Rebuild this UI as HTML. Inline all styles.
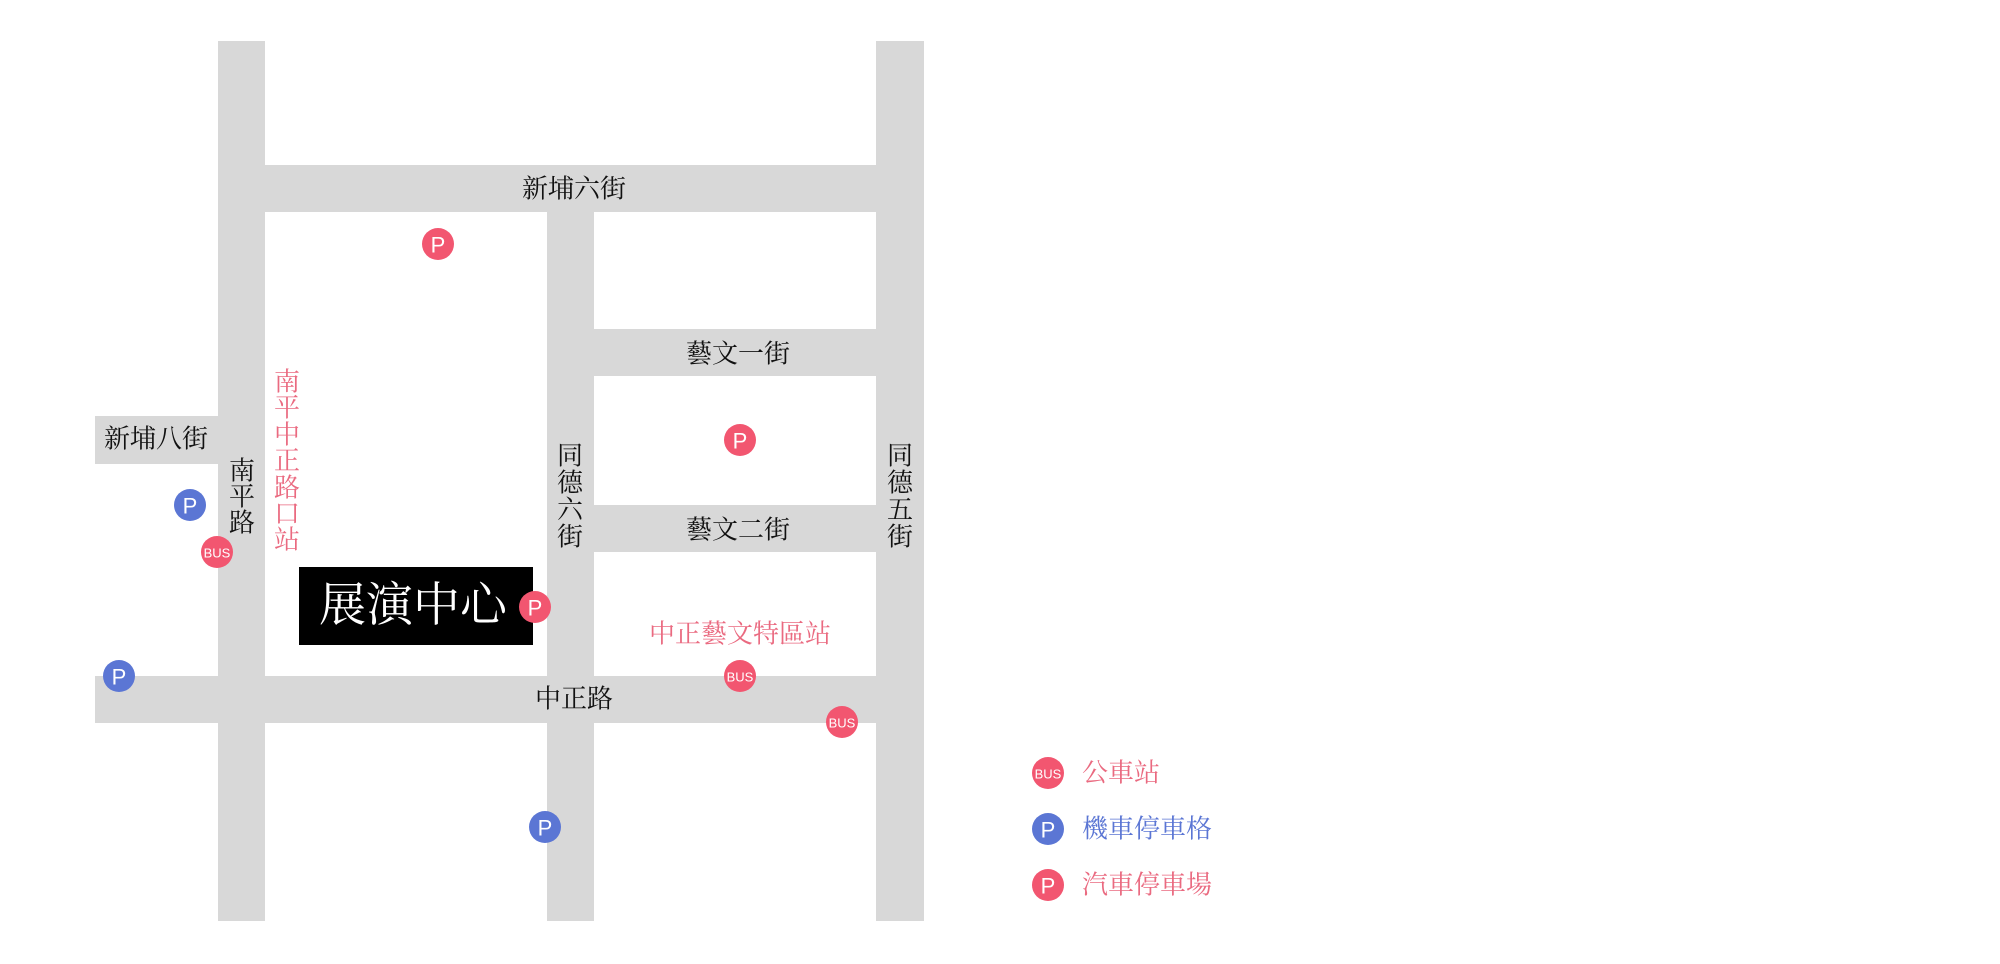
<!DOCTYPE html>
<html><head><meta charset="utf-8"><style>
html,body{margin:0;padding:0;background:#fff;}
svg{display:block}
.s{font-family:"Liberation Serif","Noto Serif CJK SC",serif;}
.g{font-family:"Liberation Sans","Noto Sans CJK TC",sans-serif;}
</style></head><body>
<svg width="2000" height="964" viewBox="0 0 2000 964" xmlns="http://www.w3.org/2000/svg">
<g fill="#d8d8d8">
<rect x="218" y="41" width="47" height="880"/>
<rect x="547" y="212" width="47" height="709"/>
<rect x="876" y="41" width="48" height="880"/>
<rect x="265" y="165" width="611" height="47"/>
<rect x="594" y="329" width="282" height="47"/>
<rect x="594" y="505" width="282" height="47"/>
<rect x="95" y="676" width="781" height="47"/>
<rect x="95" y="416" width="123" height="48"/>
</g>
<g class="s" font-size="26" fill="#111" text-anchor="middle" dominant-baseline="central">
<text x="574" y="189">新埔六街</text>
<text x="738" y="354">藝文一街</text>
<text x="738" y="530">藝文二街</text>
<text x="574" y="699">中正路</text>
<text x="156" y="439">新埔八街</text>
<text x="242" y="471">南</text><text x="242" y="497">平</text><text x="242" y="523">路</text>
<text x="570" y="456">同</text><text x="570" y="483">德</text><text x="570" y="510">六</text><text x="570" y="537">街</text>
<text x="900" y="456">同</text><text x="900" y="483">德</text><text x="900" y="510">五</text><text x="900" y="537">街</text>
</g>
<g class="s" font-size="26" fill="#ea6a80" text-anchor="middle" dominant-baseline="central">
<text x="287" y="382">南</text><text x="287" y="408">平</text><text x="287" y="435">中</text><text x="287" y="461">正</text><text x="287" y="488">路</text><text x="287" y="514">口</text><text x="287" y="540">站</text>
<text x="740" y="634">中正藝文特區站</text>
</g>
<rect x="299" y="567" width="234" height="78" fill="#000"/>
<text class="s" x="319" y="606" font-size="47" fill="#fff" dominant-baseline="central">展演中心</text>
<g class="g" text-anchor="middle" dominant-baseline="central" fill="#fff">
<g font-size="22">
<circle cx="438" cy="244" r="16" fill="#f25670"/><text x="438" y="245">P</text>
<circle cx="740" cy="440" r="16" fill="#f25670"/><text x="740" y="441">P</text>
<circle cx="535" cy="607" r="16" fill="#f25670"/><text x="535" y="608">P</text>
<circle cx="190" cy="505" r="16" fill="#5b76d4"/><text x="190" y="506">P</text>
<circle cx="119" cy="676" r="16" fill="#5b76d4"/><text x="119" y="677">P</text>
<circle cx="545" cy="827" r="16" fill="#5b76d4"/><text x="545" y="828">P</text>
<circle cx="1048" cy="829" r="16" fill="#5b76d4"/><text x="1048" y="830">P</text>
<circle cx="1048" cy="885" r="16" fill="#f25670"/><text x="1048" y="886">P</text>
</g>
<g font-size="13">
<circle cx="217" cy="552" r="16" fill="#f25670"/><text x="217" y="553">BUS</text>
<circle cx="740" cy="676" r="16" fill="#f25670"/><text x="740" y="677">BUS</text>
<circle cx="842" cy="722" r="16" fill="#f25670"/><text x="842" y="723">BUS</text>
<circle cx="1048" cy="773" r="16" fill="#f25670"/><text x="1048" y="774">BUS</text>
</g>
</g>
<g class="s" font-size="26" dominant-baseline="central">
<text x="1082" y="773" fill="#ea6a80">公車站</text>
<text x="1082" y="829" fill="#5b76d4">機車停車格</text>
<text x="1082" y="885" fill="#ea6a80">汽車停車場</text>
</g>
</svg>
</body></html>
